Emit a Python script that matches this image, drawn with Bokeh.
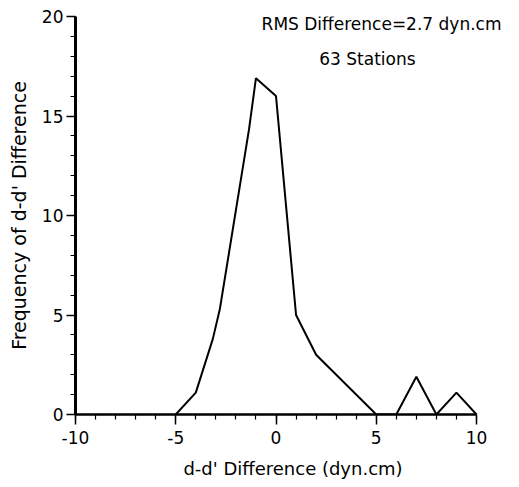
from bokeh.plotting import figure
from bokeh.models import FixedTicker, Label, Range1d, PrintfTickFormatter
from bokeh.embed import file_html
from bokeh.resources import INLINE

# data
diff_x = [-5, -4, -3.15, -2.8, -1.35, -1, 0, 1, 2, 5, 6, 7, 8, 9, 10]
freq_y = [0, 1.1, 3.8, 5.3, 14.3, 16.9, 16.0, 5.0, 3.0, 0, 0, 1.9, 0, 1.1, 0]
x_major = [-10, -5, 0, 5, 10]
x_minor = list(range(-10, 11))
y_major = [0, 5, 10, 15, 20]
y_minor = list(range(0, 21))

FONT = "DejaVu Sans"

W, H = 512, 485
BL, BR, BT, BB = 75, 2, 16, 71
frame_w = W - BL - BR
# the x axis itself spans -10..10 over 401 px; the frame extends further right
# so the annotation text is not clipped
x_end = -10 + 20.0 * frame_w / 401.0

p = figure(width=W, height=H, output_backend="svg", toolbar_location=None,
           x_range=Range1d(-10, x_end), y_range=Range1d(0, 20),
           min_border_left=BL, min_border_right=BR, min_border_top=BT, min_border_bottom=BB)
p.outline_line_color = None
p.xgrid.visible = False
p.ygrid.visible = False

p.line(diff_x, freq_y, line_color="black", line_width=2)

for ax in (p.xaxis[0], p.yaxis[0]):
    ax.axis_line_color = "black"
    ax.major_tick_line_color = "black"
    ax.minor_tick_line_color = "black"
    ax.major_tick_line_width = 1.5
    ax.minor_tick_line_width = 1.2
    ax.major_tick_in = 0
    ax.minor_tick_in = 0
    ax.major_label_text_font = FONT
    ax.major_label_text_font_size = "17px"
    ax.major_label_text_color = "black"
    ax.axis_label_text_font = FONT
    ax.axis_label_text_font_style = "normal"
    ax.axis_label_text_color = "black"
    ax.formatter = PrintfTickFormatter(format="%d")

p.xaxis[0].ticker = FixedTicker(ticks=x_major, minor_ticks=x_minor)
p.yaxis[0].ticker = FixedTicker(ticks=y_major, minor_ticks=y_minor)
p.xaxis[0].bounds = (-10, 10)

p.xaxis[0].axis_line_width = 2.5
p.yaxis[0].axis_line_width = 3
p.xaxis[0].major_tick_out = 10
p.xaxis[0].minor_tick_out = 5
p.yaxis[0].major_tick_out = 9
p.yaxis[0].minor_tick_out = 5
p.xaxis[0].major_label_standoff = 6
p.yaxis[0].major_label_standoff = 3

p.xaxis[0].axis_label = "d-d' Difference (dyn.cm)"
p.yaxis[0].axis_label = "Frequency of d-d' Difference"
p.xaxis[0].axis_label_text_font_size = "18px"
p.yaxis[0].axis_label_text_font_size = "19px"
p.xaxis[0].axis_label_standoff = 11
p.yaxis[0].axis_label_standoff = 9

p.add_layout(Label(x=-0.72, y=19.6, text="RMS Difference=2.7 dyn.cm",
                   text_font=FONT, text_font_size="17px", text_baseline="middle",
                   text_align="left", text_color="black"))
p.add_layout(Label(x=4.56, y=17.84, text="63 Stations",
                   text_font=FONT, text_font_size="17px", text_baseline="middle",
                   text_align="center", text_color="black"))

open("out.html", "w").write(file_html(p, INLINE))
